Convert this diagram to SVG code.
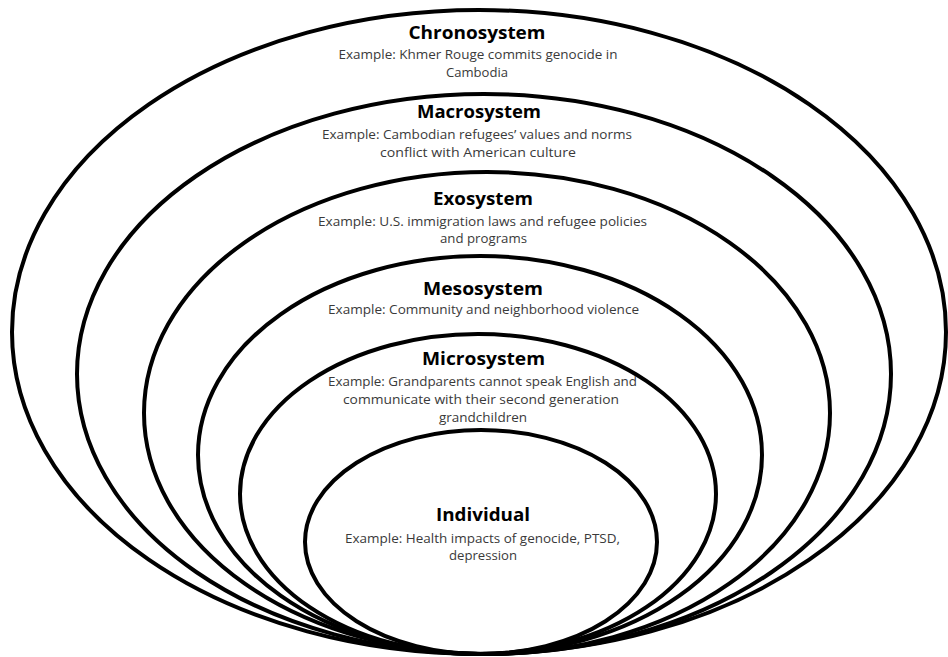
<svg xmlns="http://www.w3.org/2000/svg" width="948" height="657" viewBox="0 0 948 657">
<style>
.ring{fill:none;stroke:#000;stroke-width:4}
.t{font-family:"Open Sans","Noto Sans","Liberation Sans",sans-serif;font-weight:bold;font-size:18.5px;fill:#000;text-anchor:middle}
.e{font-family:"Open Sans","Noto Sans","Liberation Sans",sans-serif;font-size:12.3px;fill:#3a3a3a;text-anchor:middle}
</style>
<rect width="948" height="657" fill="#fff"/>
<g id="chronosystem">
<ellipse class="ring" cx="479" cy="332" rx="467" ry="322"/>
<text class="t" x="477" y="39" textLength="137" lengthAdjust="spacingAndGlyphs">Chronosystem</text>
<text class="e" x="478" y="59" textLength="279" lengthAdjust="spacingAndGlyphs">Example: Khmer Rouge commits genocide in</text>
<text class="e" x="477" y="77" textLength="62" lengthAdjust="spacingAndGlyphs">Cambodia</text>
</g>
<g id="macrosystem">
<ellipse class="ring" cx="484" cy="374" rx="407" ry="280"/>
<text class="t" x="479" y="118" textLength="124" lengthAdjust="spacingAndGlyphs">Macrosystem</text>
<text class="e" x="477" y="139" textLength="310" lengthAdjust="spacingAndGlyphs">Example: Cambodian refugees’ values and norms</text>
<text class="e" x="478" y="157" textLength="196" lengthAdjust="spacingAndGlyphs">conflict with American culture</text>
</g>
<g id="exosystem">
<ellipse class="ring" cx="487" cy="413" rx="343" ry="241"/>
<text class="t" x="483" y="205" textLength="100" lengthAdjust="spacingAndGlyphs">Exosystem</text>
<text class="e" x="482.5" y="226" textLength="329" lengthAdjust="spacingAndGlyphs">Example: U.S. immigration laws and refugee policies</text>
<text class="e" x="483.5" y="243" textLength="87" lengthAdjust="spacingAndGlyphs">and programs</text>
</g>
<g id="mesosystem">
<ellipse class="ring" cx="480" cy="455" rx="282" ry="199"/>
<text class="t" x="483" y="295" textLength="120" lengthAdjust="spacingAndGlyphs">Mesosystem</text>
<text class="e" x="483.5" y="314" textLength="311" lengthAdjust="spacingAndGlyphs">Example: Community and neighborhood violence</text>
</g>
<g id="microsystem">
<ellipse class="ring" cx="478" cy="494" rx="238" ry="160"/>
<text class="t" x="483.5" y="365" textLength="123" lengthAdjust="spacingAndGlyphs">Microsystem</text>
<text class="e" x="482.5" y="386" textLength="309" lengthAdjust="spacingAndGlyphs">Example: Grandparents cannot speak English and</text>
<text class="e" x="481" y="404" textLength="276" lengthAdjust="spacingAndGlyphs">communicate with their second generation</text>
<text class="e" x="483" y="422" textLength="88" lengthAdjust="spacingAndGlyphs">grandchildren</text>
</g>
<g id="individual">
<ellipse class="ring" cx="481" cy="542" rx="176" ry="112"/>
<text class="t" x="483" y="521" textLength="94" lengthAdjust="spacingAndGlyphs">Individual</text>
<text class="e" x="482.5" y="543" textLength="275" lengthAdjust="spacingAndGlyphs">Example: Health impacts of genocide, PTSD,</text>
<text class="e" x="483" y="560" textLength="68" lengthAdjust="spacingAndGlyphs">depression</text>
</g>
</svg>
